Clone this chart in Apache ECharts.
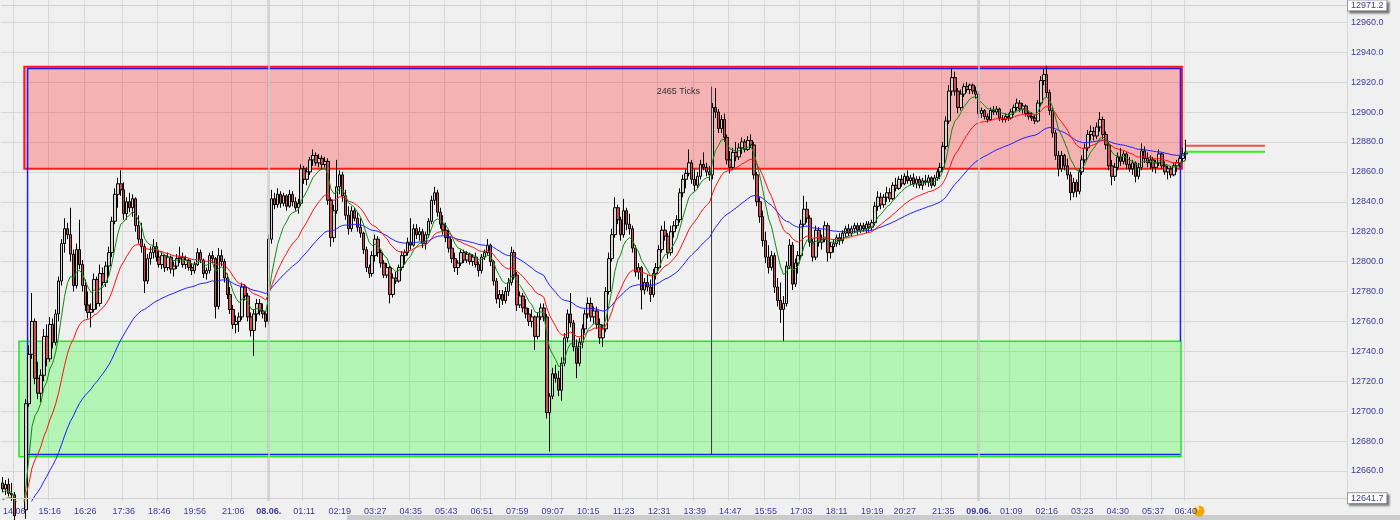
<!DOCTYPE html>
<html><head><meta charset="utf-8">
<script src="https://cdn.jsdelivr.net/npm/echarts@6/dist/echarts.min.js"></script>
<style>html,body{margin:0;padding:0;background:#f0f0f0;overflow:hidden}#c{width:1400px;height:520px}</style>
</head><body><div id="c"></div><script>
// ---- price bars (one value per bar) ----
const open = [
12652,12648,12651,12645,12644,12630,12620,12625,12634,12705,
12738,12760,12722,12712,12724,12750,12735,12758,12746,12765,
12787,12812,12822,12818,12805,12784,12808,12798,12784,12771,
12766,12768,12788,12772,12792,12786,12797,12806,12827,12845,
12852,12848,12832,12840,12836,12842,12824,12815,12810,12787,
12802,12806,12810,12803,12798,12804,12796,12803,12795,12797,
12802,12803,12798,12801,12796,12794,12798,12806,12801,12792,
12794,12804,12802,12770,12804,12800,12789,12778,12768,12758,
12760,12763,12783,12777,12763,12754,12765,12772,12767,12765,
12760,12815,12842,12838,12845,12839,12844,12837,12845,12840,
12836,12839,12862,12855,12860,12868,12871,12866,12869,12865,
12867,12841,12816,12834,12850,12858,12844,12831,12822,12834,
12829,12823,12819,12808,12796,12792,12804,12815,12806,12799,
12791,12796,12778,12789,12787,12796,12804,12806,12813,12811,
12822,12818,12820,12812,12818,12827,12841,12846,12833,12825,
12821,12816,12809,12802,12796,12799,12806,12801,12805,12800,
12803,12798,12794,12803,12806,12811,12800,12787,12775,12778,
12774,12780,12786,12806,12791,12771,12777,12769,12765,12760,
12763,12750,12763,12769,12763,12699,12710,12725,12722,12714,
12732,12749,12765,12759,12743,12732,12746,12755,12765,12772,
12763,12767,12758,12749,12755,12780,12802,12818,12836,12828,
12818,12834,12825,12822,12809,12793,12796,12781,12786,12783,
12778,12792,12796,12808,12821,12817,12806,12820,12824,12828,
12846,12855,12859,12866,12855,12851,12857,12865,12863,12860,
12858,12903,12900,12889,12895,12883,12868,12863,12873,12870,
12876,12880,12875,12881,12878,12858,12840,12830,12814,12803,
12796,12804,12783,12774,12768,12772,12797,12811,12785,12799,
12804,12825,12835,12829,12813,12803,12821,12813,12815,12824,
12806,12810,12812,12816,12814,12819,12822,12819,12822,12824,
12821,12824,12822,12825,12823,12826,12837,12843,12838,12843,
12846,12842,12851,12849,12855,12852,12857,12854,12856,12852,
12855,12851,12854,12853,12856,12851,12856,12860,12863,12877,
12894,12914,12923,12914,12903,12912,12917,12915,12918,12914,
12912,12899,12901,12897,12895,12901,12900,12902,12896,12895,
12897,12896,12900,12903,12906,12902,12904,12899,12897,12896,
12894,12906,12921,12925,12913,12901,12886,12871,12862,12871,
12864,12858,12846,12853,12847,12860,12868,12876,12885,12887,
12884,12890,12895,12885,12878,12864,12857,12863,12870,12867,
12872,12865,12862,12866,12857,12863,12874,12869,12866,12868,
12863,12866,12872,12864,12860,12862,12858,12864,12866,12869,
12872];
const high = [
12656,12654,12655,12652,12646,12634,12628,12638,12708,12744,
12779,12762,12733,12728,12755,12758,12763,12762,12768,12790,
12815,12829,12826,12836,12808,12812,12828,12801,12788,12780,
12772,12792,12790,12798,12796,12800,12810,12830,12849,12856,
12861,12853,12843,12846,12845,12843,12831,12826,12812,12805,
12810,12815,12813,12808,12806,12805,12806,12804,12800,12805,
12810,12806,12804,12802,12799,12800,12809,12808,12802,12796,
12806,12807,12803,12809,12808,12802,12792,12783,12771,12764,
12766,12786,12785,12779,12766,12768,12775,12775,12772,12767,
12818,12848,12846,12849,12847,12846,12845,12848,12847,12843,
12842,12865,12864,12863,12870,12875,12873,12872,12871,12870,
12869,12843,12838,12868,12861,12860,12848,12837,12837,12836,
12833,12829,12820,12810,12798,12807,12818,12817,12808,12801,
12799,12797,12792,12793,12798,12807,12808,12816,12829,12825,
12825,12823,12822,12820,12829,12844,12850,12848,12836,12831,
12826,12821,12815,12806,12801,12808,12808,12807,12806,12805,
12806,12800,12805,12808,12815,12812,12801,12789,12781,12781,
12783,12789,12810,12808,12793,12780,12779,12775,12769,12768,
12764,12766,12772,12772,12765,12712,12729,12731,12727,12736,
12752,12768,12779,12761,12748,12749,12758,12768,12776,12776,
12770,12770,12762,12758,12783,12806,12822,12843,12838,12830,
12842,12836,12832,12824,12811,12799,12797,12789,12791,12788,
12795,12799,12811,12824,12827,12819,12824,12827,12831,12849,
12858,12862,12875,12868,12862,12860,12868,12873,12866,12864,
12906,12916,12902,12898,12899,12885,12874,12876,12880,12879,
12883,12882,12884,12885,12880,12860,12843,12834,12820,12811,
12807,12806,12789,12786,12777,12800,12815,12813,12802,12807,
12828,12844,12840,12831,12815,12824,12823,12818,12827,12826,
12813,12815,12818,12819,12821,12824,12825,12824,12826,12826,
12826,12826,12827,12827,12828,12840,12847,12846,12845,12850,
12849,12853,12856,12857,12858,12859,12861,12858,12859,12857,
12857,12856,12858,12858,12857,12858,12862,12866,12880,12897,
12918,12929,12927,12916,12915,12919,12920,12919,12919,12917,
12914,12903,12902,12899,12903,12904,12904,12903,12898,12899,
12899,12902,12905,12909,12908,12906,12905,12901,12900,12898,
12908,12924,12929,12931,12915,12903,12888,12874,12874,12872,
12869,12860,12856,12855,12862,12871,12879,12888,12891,12890,
12893,12900,12897,12887,12880,12868,12866,12873,12876,12874,
12873,12870,12868,12867,12866,12879,12877,12873,12871,12870,
12868,12875,12873,12867,12864,12864,12866,12868,12871,12876,
12881.5];
const low = [
12646,12644,12643,12640,12625,12615,12612,12618,12628,12703,
12735,12718,12708,12706,12720,12730,12733,12742,12744,12760,
12784,12806,12815,12800,12780,12782,12795,12780,12767,12762,
12756,12766,12768,12770,12784,12783,12790,12803,12825,12836,
12844,12828,12828,12833,12830,12820,12812,12806,12779,12785,
12798,12802,12800,12796,12795,12793,12794,12792,12790,12795,
12799,12796,12795,12794,12791,12792,12797,12799,12789,12788,
12792,12799,12762,12768,12797,12786,12775,12765,12755,12752,
12753,12761,12774,12760,12750,12737,12760,12764,12762,12756,
12758,12812,12835,12836,12836,12837,12834,12836,12837,12834,
12832,12837,12852,12851,12858,12864,12864,12863,12862,12863,
12838,12810,12813,12832,12845,12840,12828,12818,12820,12827,
12820,12816,12805,12793,12789,12790,12800,12803,12796,12789,
12789,12772,12776,12785,12786,12794,12798,12804,12808,12810,
12815,12814,12809,12808,12816,12825,12838,12830,12822,12818,
12813,12806,12799,12793,12791,12797,12799,12799,12798,12797,
12796,12790,12792,12801,12804,12797,12784,12772,12769,12771,
12772,12777,12784,12788,12767,12769,12766,12762,12757,12756,
12741,12748,12761,12760,12695,12673,12708,12719,12710,12707,
12730,12746,12756,12740,12722,12730,12742,12752,12762,12760,
12758,12755,12745,12743,12753,12778,12800,12816,12825,12814,
12816,12821,12818,12806,12790,12788,12768,12778,12780,12773,
12776,12788,12794,12806,12814,12802,12804,12816,12822,12826,
12843,12849,12857,12852,12847,12849,12855,12861,12857,12854,
12855,12896,12886,12886,12880,12865,12859,12861,12867,12868,
12872,12873,12874,12876,12855,12837,12826,12810,12799,12792,
12794,12779,12770,12759,12747,12770,12795,12781,12783,12792,
12802,12823,12826,12810,12800,12801,12810,12808,12813,12800,
12802,12806,12810,12811,12812,12816,12817,12817,12819,12818,
12819,12820,12819,12820,12821,12824,12834,12835,12836,12840,
12840,12841,12847,12848,12850,12851,12852,12851,12850,12849,
12849,12848,12851,12850,12849,12850,12854,12855,12861,12875,
12892,12911,12911,12899,12901,12910,12913,12912,12912,12909,
12896,12896,12895,12893,12894,12898,12898,12894,12893,12893,
12894,12895,12898,12901,12900,12899,12897,12895,12894,12892,
12893,12904,12918,12910,12898,12883,12868,12857,12860,12861,
12855,12841,12843,12843,12845,12858,12866,12874,12881,12881,
12882,12887,12882,12875,12861,12851,12854,12861,12864,12865,
12862,12860,12858,12853,12855,12861,12866,12863,12862,12860,
12859,12864,12862,12858,12855,12856,12857,12860,12863,12866,
12868];
const close = [
12648,12651,12645,12644,12630,12620,12625,12634,12705,12738,
12760,12722,12712,12724,12750,12735,12758,12746,12765,12787,
12812,12822,12818,12805,12784,12808,12798,12784,12771,12766,
12768,12788,12772,12792,12786,12797,12806,12827,12845,12852,
12848,12832,12840,12836,12842,12824,12815,12810,12787,12802,
12806,12810,12803,12798,12804,12796,12803,12795,12797,12802,
12803,12798,12801,12796,12794,12798,12806,12801,12792,12794,
12804,12802,12770,12804,12800,12789,12778,12768,12758,12760,
12763,12783,12777,12763,12754,12765,12772,12767,12765,12760,
12815,12842,12838,12845,12839,12844,12837,12845,12840,12836,
12839,12862,12855,12860,12868,12871,12866,12869,12865,12867,
12841,12816,12834,12850,12858,12844,12831,12822,12834,12829,
12823,12819,12808,12796,12792,12804,12815,12806,12799,12791,
12796,12778,12789,12787,12796,12804,12806,12813,12811,12822,
12818,12820,12812,12818,12827,12841,12846,12833,12825,12821,
12816,12809,12802,12796,12799,12806,12801,12805,12800,12803,
12798,12794,12803,12806,12811,12800,12787,12775,12778,12774,
12780,12786,12806,12791,12771,12777,12769,12765,12760,12763,
12750,12763,12769,12763,12699,12710,12725,12722,12714,12732,
12749,12765,12759,12743,12732,12746,12755,12765,12772,12763,
12767,12758,12749,12755,12780,12802,12818,12836,12828,12818,
12834,12825,12822,12809,12793,12796,12781,12786,12783,12778,
12792,12796,12808,12821,12817,12806,12820,12824,12828,12846,
12855,12859,12866,12855,12851,12857,12865,12863,12860,12858,
12903,12900,12889,12895,12883,12868,12863,12873,12870,12876,
12880,12875,12881,12878,12858,12840,12830,12814,12803,12796,
12804,12783,12774,12768,12772,12797,12811,12785,12799,12804,
12825,12835,12829,12813,12803,12821,12813,12815,12824,12806,
12810,12812,12816,12814,12819,12822,12819,12822,12824,12821,
12824,12822,12825,12823,12826,12837,12843,12838,12843,12846,
12842,12851,12849,12855,12852,12857,12854,12856,12852,12855,
12851,12854,12853,12856,12851,12856,12860,12863,12877,12894,
12914,12923,12914,12903,12912,12917,12915,12918,12914,12912,
12899,12901,12897,12895,12901,12900,12902,12896,12895,12897,
12896,12900,12903,12906,12902,12904,12899,12897,12896,12894,
12906,12921,12925,12913,12901,12886,12871,12862,12871,12864,
12858,12846,12853,12847,12860,12868,12876,12885,12887,12884,
12890,12895,12885,12878,12864,12857,12863,12870,12867,12872,
12865,12862,12866,12857,12863,12874,12869,12866,12868,12863,
12866,12872,12864,12860,12862,12858,12864,12866,12869,12872,
12873.2];

// ---- time axis labels (bar index where each label sits) ----
const labelIdx  = [4,16,28,41,53,65,78,90,102,114,126,138,150,162,174,186,198,210,222,234,246,258,270,282,294,305,318,330,341,353,365,377,389,400];
const labelText = ['14:06','15:16','16:26','17:36','18:46','19:56','21:06','08.06.','01:11','02:19','03:27','04:35','05:43','06:51','07:59','09:07','10:15','11:23','12:31','13:39','14:47','15:55','17:03','18:11','19:19','20:27','21:35','09.06.','01:09','02:16','03:23','04:30','05:37','06:40'];
const dayIdx = [90, 330];

// ---- price axis ----
const axisLow = 12641.7, axisHigh = 12971.2, lastPrice = 12873.2;
const yMin = 12640, yMax = 12974.9, yStep = 20;

// ---- drawings (bar index / price) ----
const redZone   = [7.4, 398.7, 12930.3, 12862.1];
const greenZone = [5.6, 398.4, 12746.8, 12669.5];
const blueFrame = [8.5, 398.2, 12929.1, 12671.1];
const tickMarker = [239.7, 12917, 12671.1];
const tickNote = ['2465 Ticks', 228.5, 12913.5];
const levelRed = 12877.5, levelGreen = 12873.5, levelSpan = [400.1, 426.8];

// ---- moving averages: periods and their value before the first bar ----
const maPeriods = [8, 21, 50];
const maStart = [12645, 12640, 12625];

const TOTAL = 455; // bar slots across the plot (data + empty right margin)

function ema(src, period, start) {
  const k = 2 / (period + 1); let v = start;
  return src.map(c => { v += k * (c - v); return Math.round(v * 100) / 100; });
}

const candles = close.map((c, i) => [open[i], close[i], low[i], high[i]]);
const maFast = ema(close, maPeriods[0], maStart[0]);
const maMid = ema(close, maPeriods[1], maStart[1]);
const maSlow = ema(close, maPeriods[2], maStart[2]);

const labelSet = new Set(labelIdx);
const labelMap = {}; labelIdx.forEach((k, j) => { labelMap[k] = labelText[j]; });
const cats = Array.from({ length: TOTAL }, (_, i) => 'b' + i);
const AX = '#3b3b9a';
const FONT = 'Liberation Sans';

const chart = echarts.init(document.getElementById('c'));
const boxLabel = (bg) => ({
  show: true, position: 'end', distance: 1, formatter: p => p.value.toFixed(1),
  color: AX, fontSize: 9, fontFamily: FONT, backgroundColor: bg, borderColor: '#9a9a9a', borderWidth: 1,
  padding: [1, 3, 0, 3], shadowColor: 'rgba(0,0,0,0.35)', shadowOffsetX: 2, shadowOffsetY: 2, shadowBlur: 2
});

chart.setOption({
  animation: false,
  backgroundColor: '#f0f0f0',
  textStyle: { fontFamily: FONT },
  grid: { left: 0, right: 53, top: 0, bottom: 19.1 },
  xAxis: [{
    type: 'category', data: cats, boundaryGap: true,
    axisLine: { show: false }, axisTick: { show: false },
    axisLabel: {
      interval: (i) => labelSet.has(i), margin: 6, color: AX, fontSize: 9, fontFamily: FONT,
      formatter: (v, i) => { const t = labelMap[i]; if (!t) return ''; return t.endsWith('.') ? '{b|' + t + '}' : t; },
      rich: { b: { fontWeight: 'bold', color: AX, fontSize: 9, fontFamily: FONT } }
    },
    splitLine: { show: true, interval: (i) => labelSet.has(i), lineStyle: { color: '#d8d8d8', width: 1 } }
  }, {
    type: 'value', min: -0.5, max: TOTAL - 0.5, show: false
  }],
  yAxis: {
    type: 'value', position: 'right', min: yMin, max: yMax, interval: yStep,
    axisLine: { show: false }, axisTick: { show: false },
    axisLabel: { formatter: v => v.toFixed(1), color: AX, fontSize: 9, fontFamily: FONT, margin: 4, showMinLabel: false, showMaxLabel: false },
    splitLine: { lineStyle: { color: '#d8d8d8', width: 1 }, showMinLine: false, showMaxLine: false }
  },
  series: [
    { type: 'line', xAxisIndex: 1, data: [], z: 0.5, silent: true,
      markLine: { silent: true, symbol: 'none', label: { show: false }, lineStyle: { color: '#cdcdcd', width: 1.5, type: 'solid', opacity: 1 },
        emphasis: { disabled: true }, data: dayIdx.map(d => ({ xAxis: d })) } },
    { type: 'line', xAxisIndex: 1, data: [], z: 1, silent: true,
      markArea: { silent: true, itemStyle: { color: 'rgba(255,0,0,0.26)', borderColor: '#ff1a1a', borderWidth: 2 },
        data: [[{ coord: [redZone[0], redZone[2]] }, { coord: [redZone[1], redZone[3]] }]] } },
    { type: 'line', xAxisIndex: 1, z: 1.2, silent: true, symbol: 'none', lineStyle: { color: '#1a1aff', width: 1.5 },
      data: [[blueFrame[1], greenZone[2]], [blueFrame[1], blueFrame[2]], [blueFrame[0], blueFrame[2]], [blueFrame[0], blueFrame[3]], [blueFrame[1], blueFrame[3]]] },
    { type: 'line', xAxisIndex: 1, data: [], z: 1.4, silent: true,
      markArea: { silent: true, itemStyle: { color: 'rgba(0,255,0,0.25)', borderColor: '#22e622', borderWidth: 1.5 },
        data: [[{ coord: [greenZone[0], greenZone[2]] }, { coord: [greenZone[1], greenZone[3]] }]] } },
    { type: 'candlestick', xAxisIndex: 0, data: candles, z: 2, barWidth: 3,
      itemStyle: { color: '#d6d6cc', color0: '#d44a4a', borderColor: '#000', borderColor0: '#000', borderWidth: 1 } },
    { type: 'line', xAxisIndex: 0, data: maSlow, z: 3, symbol: 'none', lineStyle: { color: '#2020ff', width: 1 } },
    { type: 'line', xAxisIndex: 0, data: maMid, z: 3, symbol: 'none', lineStyle: { color: '#ff1010', width: 1 } },
    { type: 'line', xAxisIndex: 0, data: maFast, z: 3, symbol: 'none', lineStyle: { color: '#0e8c0e', width: 1 } },
    { type: 'line', xAxisIndex: 1, z: 3, silent: true, symbol: 'none', lineStyle: { color: '#3a3a3a', width: 1 },
      data: [[tickMarker[0], tickMarker[1]], [tickMarker[0], tickMarker[2]]],
      markPoint: { silent: true, symbol: 'rect', symbolSize: 1, itemStyle: { color: 'rgba(0,0,0,0)' },
        label: { show: true, position: 'inside', formatter: tickNote[0], color: '#333', fontSize: 9, fontFamily: FONT },
        data: [{ coord: [tickNote[1], tickNote[2]] }] } },
    { type: 'line', xAxisIndex: 1, z: 3, silent: true, symbol: 'none', lineStyle: { color: '#ff4a4a', width: 2 },
      data: [[levelSpan[0], levelRed], [levelSpan[1], levelRed]] },
    { type: 'line', xAxisIndex: 1, z: 3, silent: true, symbol: 'none', lineStyle: { color: '#33ee22', width: 2 },
      data: [[levelSpan[0], levelGreen], [levelSpan[1], levelGreen]] },
    { type: 'line', xAxisIndex: 1, data: [], z: 4, silent: true,
      markLine: { silent: true, symbol: 'none',
        data: [
          { yAxis: axisHigh, lineStyle: { color: '#d0d0d0', width: 1, type: 'solid' }, label: boxLabel('#ffffff') },
          { yAxis: axisLow, lineStyle: { color: '#d0d0d0', width: 1, type: 'solid' }, label: boxLabel('#ffffff') },
          { yAxis: lastPrice, lineStyle: { opacity: 0 }, label: boxLabel('#ffffc4') }
        ] } }
  ],
  graphic: [
    { type: 'rect', left: 347, top: 515, shape: { width: 1053, height: 5 }, style: { fill: '#cccccc' }, silent: true },
    { type: 'circle', shape: { cx: 1199, cy: 511, r: 5.5 }, style: { fill: '#f6a800' }, silent: true },
    { type: 'sector', shape: { cx: 1199, cy: 511, r: 5.5, r0: 0, startAngle: -Math.PI * 0.75, endAngle: -Math.PI * 0.5 }, style: { fill: '#fde7a6' }, silent: true }
  ]
});
</script></body></html>
